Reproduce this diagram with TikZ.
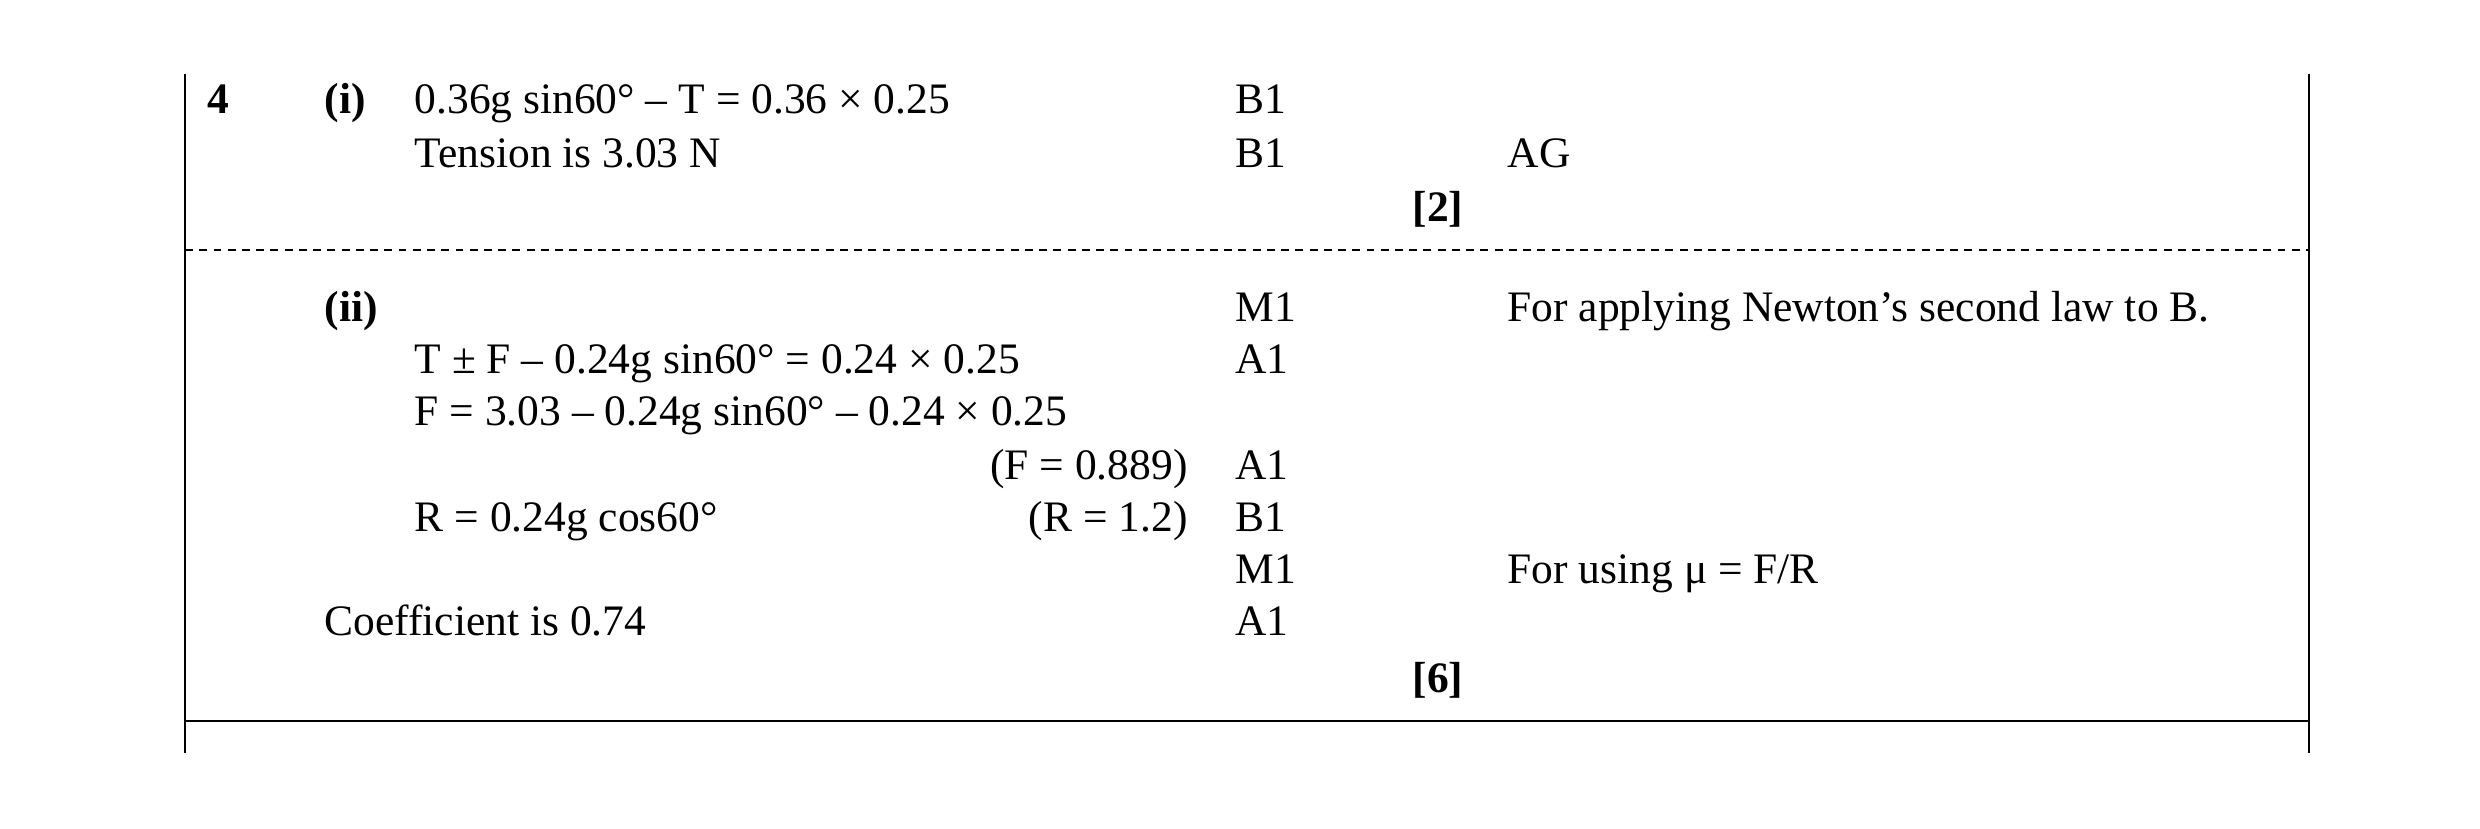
\documentclass[tikz,border=0pt]{standalone}
\usepackage{fontspec}
\setmainfont{Liberation Serif}
\begin{document}
\begin{tikzpicture}[x=1pt,y=-1pt,
  t/.style={anchor=base west,inner sep=0pt,font=\fontsize{27.5}{30}\selectfont},
  tr/.style={anchor=base east,inner sep=0pt,font=\fontsize{27.5}{30}\selectfont},
  tb/.style={t,font=\fontsize{27.5}{30}\selectfont\bfseries},
  ln/.style={line width=1pt}]
\useasboundingbox (0,0) rectangle (1568,524);
\draw[ln] (117,47) -- (117,476);
\draw[ln] (1460,47) -- (1460,476);
\draw[ln,dash pattern=on 5pt off 4pt] (117,158) -- (1460,158);
\draw[ln] (117,456) -- (1460,456);
\node[tb] (q) at (131,72) {4};
\node[tb] (i) at (205,72) {(i)};
\node[t] (a1) at (262,72) {0.36g sin60° – T = 0.36 × 0.25};
\node[t] (m1) at (781,72) {B1};
\node[t] (a2) at (262,106) {Tension is 3.03 N};
\node[t] (m2) at (781,106) {B1};
\node[t] (c2) at (953,106) {AG};
\node[tb] (s1) at (893,140) {[2]};
\node[tb] (ii) at (205,203) {(ii)};
\node[t] (m3) at (781,203) {M1};
\node[t] (c3) at (953,203) {For applying Newton’s second law to B.};
\node[t] (b1) at (262,236) {T ± F – 0.24g sin60° = 0.24 × 0.25};
\node[t] (m4) at (781,236) {A1};
\node[t] (b2) at (262,269) {F = 3.03 – 0.24g sin60° – 0.24 × 0.25};
\node[tr] (b3) at (751,303) {(F = 0.889)};
\node[t] (m5) at (781,303) {A1};
\node[t] (b4) at (262,336) {R = 0.24g cos60°};
\node[tr] (b5) at (751,336) {(R = 1.2)};
\node[t] (m6) at (781,336) {B1};
\node[t] (m7) at (781,369) {M1};
\node[t] (c7) at (953,369) {For using μ = F/R};
\node[t] (b6) at (205,402) {Coefficient is 0.74};
\node[t] (m8) at (781,402) {A1};
\node[tb] (s2) at (893,438) {[6]};
\end{tikzpicture}
\end{document}
